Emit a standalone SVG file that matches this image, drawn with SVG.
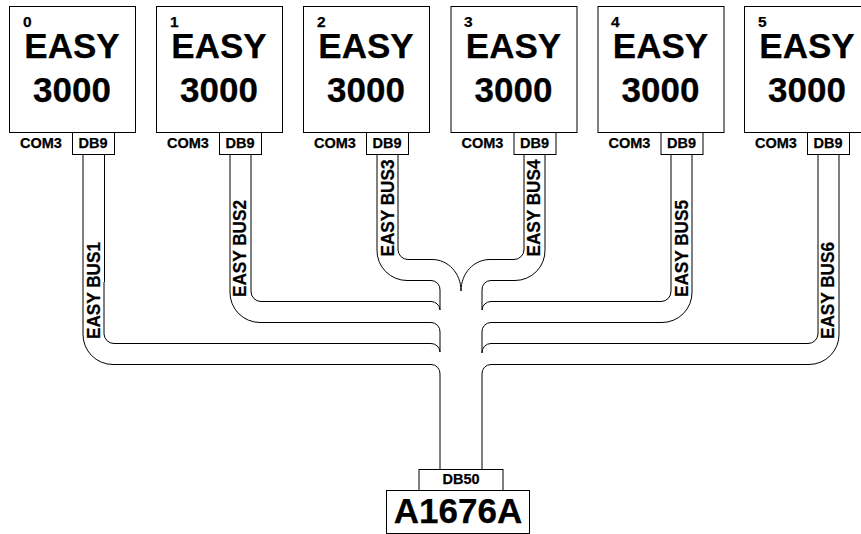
<svg xmlns="http://www.w3.org/2000/svg" width="861" height="534" viewBox="0 0 861 534">
<style>
.b{fill:#fff;stroke:#000;stroke-width:1}
.w{fill:none;stroke:#000;stroke-width:1}
text{font-family:"Liberation Sans",Arial,sans-serif;font-weight:bold;fill:#000;stroke:#000;stroke-width:.25}
.big{font-size:35px;text-anchor:middle}
.n{font-size:15.5px}
.s{font-size:14.5px}
.m{font-size:14.5px;text-anchor:middle}
.l{font-size:18.500px}
</style>
<defs>
<g id="easy">
<rect class="b" x="9.5" y="6.5" width="126" height="126"/>
<rect class="b" x="72.5" y="132.5" width="42" height="22"/>
<text class="big" x="72" y="58">EASY</text>
<text class="big" x="72" y="102">3000</text>
<text class="s" x="20" y="148">COM3</text>
<text class="m" x="93" y="148">DB9</text>
</g>
</defs>
<g id="connectors">
<path class="w" d="M83 154V334A30 30 0 0 0 113 364.5H431A9 9 0 0 1 440 374V470"/>
<path class="w" d="M104.500 154V282M104 282V334A10 10 0 0 0 114 343.500H431A9 9 0 0 1 440 352"/>
<path class="w" d="M230 154V292A30 30 0 0 0 260 322.500H431A9 9 0 0 1 440 332V352"/>
<path class="w" d="M251 154V291A10 10 0 0 0 261 301.500H431A9 9 0 0 1 440 310"/>
<path class="w" d="M377 154V250A30 30 0 0 0 407 280.500H431A9 9 0 0 1 440 290V310"/>
<path class="w" d="M398 154V250A10 10 0 0 0 408 259.500H432C448 259.500 461 273 461 291"/>
<path class="w" d="M461 291C461 273 474 259.500 490 259.500H514A10 10 0 0 0 524 250V154"/>
<path class="w" d="M482 310V290A9 9 0 0 1 491 280.500H515A30 30 0 0 0 545 250V154"/>
<path class="w" d="M482 310A9 9 0 0 1 491 301.500H661A10 10 0 0 0 671 291V154"/>
<path class="w" d="M482 353V332A9 9 0 0 1 491 322.500H662A30 30 0 0 0 692 292V154"/>
<path class="w" d="M482 353A9 9 0 0 1 491 343.500H808A10 10 0 0 0 818 334V154"/>
<path class="w" d="M482 470V374A9 9 0 0 1 491 364.500H809A30 30 0 0 0 839 334V154"/>
</g>
<g id="node0"><use href="#easy" x="0"/><text class="n" x="23" y="27">0</text></g>
<g id="node1"><use href="#easy" x="147"/><text class="n" x="170" y="27">1</text></g>
<g id="node2"><use href="#easy" x="294"/><text class="n" x="317" y="27">2</text></g>
<g id="node3"><use href="#easy" x="441.500"/><text class="n" x="464" y="27">3</text></g>
<g id="node4"><use href="#easy" x="588.500"/><text class="n" x="611" y="27">4</text></g>
<g id="node5"><use href="#easy" x="735"/><text class="n" x="758" y="27">5</text></g>
<g id="labels">
<text class="l" textLength="97" lengthAdjust="spacingAndGlyphs" transform="translate(99.500 339) rotate(-90)">EASY BUS1</text>
<text class="l" textLength="97" lengthAdjust="spacingAndGlyphs" transform="translate(246 297) rotate(-90)">EASY BUS2</text>
<text class="l" textLength="97" lengthAdjust="spacingAndGlyphs" transform="translate(394 256.500) rotate(-90)">EASY BUS3</text>
<text class="l" textLength="97" lengthAdjust="spacingAndGlyphs" transform="translate(540 256.500) rotate(-90)">EASY BUS4</text>
<text class="l" textLength="97" lengthAdjust="spacingAndGlyphs" transform="translate(687.500 297) rotate(-90)">EASY BUS5</text>
<text class="l" textLength="97" lengthAdjust="spacingAndGlyphs" transform="translate(834 339) rotate(-90)">EASY BUS6</text>
</g>
<g id="db50"><rect class="b" x="419" y="469.500" width="84" height="21"/><text class="m" x="461" y="484">DB50</text></g>
<g id="a1676a"><rect class="b" x="386.500" y="490.500" width="143" height="43"/><text class="big" x="458" y="523">A1676A</text></g>
</svg>
